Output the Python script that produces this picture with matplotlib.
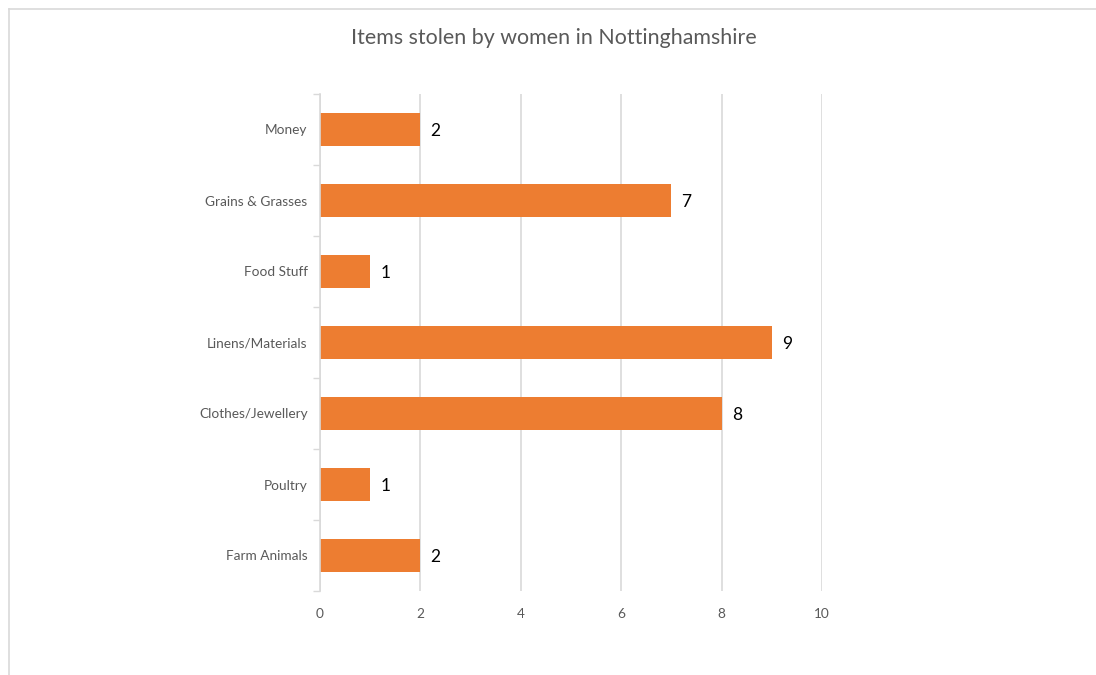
import matplotlib.pyplot as plt
from matplotlib.lines import Line2D

categories = ["Money", "Grains & Grasses", "Food Stuff", "Linens/Materials",
              "Clothes/Jewellery", "Poultry", "Farm Animals"]
counts = [2, 7, 1, 9, 8, 1, 2]
x_ticks = [0, 2, 4, 6, 8, 10]

plt.rcParams['font.family'] = ['Lato', 'DejaVu Sans']

W, H = 1096, 675
fig = plt.figure(figsize=(W / 100, H / 100), dpi=100)
fig.patch.set_facecolor('white')

# chart-area frame (top and left edges visible)
fig.add_artist(Line2D([9 / W, 9 / W], [0, 1 - 9 / H], transform=fig.transFigure,
                      color='#d9d9d9', lw=1.2))
fig.add_artist(Line2D([9 / W, 1], [1 - 9 / H, 1 - 9 / H], transform=fig.transFigure,
                      color='#d9d9d9', lw=1.2))

ax = fig.add_axes([320 / W, 84 / H, 502 / W, 497 / H])

n = len(categories)
ypos = list(range(n))
ax.barh(ypos, counts, height=0.46, color='#ed7d31', zorder=3)
ax.set_ylim(n - 0.5, -0.5)
ax.set_xlim(0, 10)

ax.set_yticks(ypos)
ax.set_yticklabels(categories, fontsize=9.8, color='#595959')
ax.set_yticks([i - 0.5 for i in range(n + 1)], minor=True)
ax.tick_params(axis='y', which='major', length=0, pad=9)
ax.tick_params(axis='y', which='minor', length=5, color='#d9d9d9', width=1)

ax.set_xticks(x_ticks)
ax.set_xticklabels([str(t) for t in x_ticks], fontsize=9.8, color='#595959')
ax.tick_params(axis='x', length=0, pad=12)
ax.xaxis.grid(True, color='#d9d9d9', lw=1.2, zorder=0)

for s in ['top', 'right', 'bottom']:
    ax.spines[s].set_visible(False)
ax.spines['left'].set_color('#d9d9d9')
ax.spines['left'].set_linewidth(1.2)
ax.spines['left'].set_zorder(4)

for y, v in zip(ypos, counts):
    ax.text(v + 0.2, y, str(v), va='center_baseline', ha='left', fontsize=12.5,
            color='#000000')

fig.text(554 / W, 1 - 38 / H, "Items stolen by women in Nottinghamshire",
         ha='center', va='center', fontsize=15.4, color='#595959')

fig.savefig('out.png', dpi=100)
